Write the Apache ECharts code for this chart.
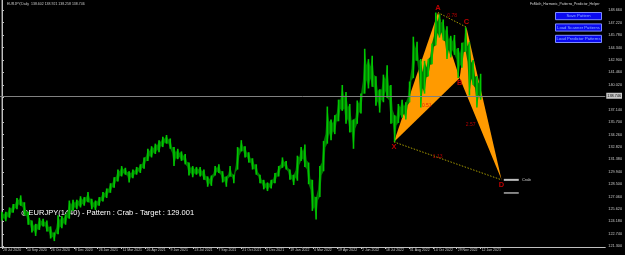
<!DOCTYPE html>
<html><head><meta charset="utf-8">
<script src="https://cdn.jsdelivr.net/npm/echarts@6/dist/echarts.min.js"></script>
<style>html,body{margin:0;padding:0;background:#000;}#c{width:625px;height:255px;}</style>
</head><body><div id="c"></div>
<script>
// ---------------- data ----------------
const symbolTitle = 'EURJPY,Daily  138.602 138.921 138.258 138.746';
const indicatorName = 'FxMath_Harmonic_Patterns_Predictor_Helper';
const buttonLabels = ['Save Pattern', 'Load Scanner Patterns', 'Load Predictor Patterns'];
const infoText = '@EURJPY(1440) - Pattern : Crab - Target : 129.001';
const dateLabels = ['28 Jul 2020','10 Sep 2020','26 Oct 2020','9 Dec 2020','26 Jan 2021','11 Mar 2021','26 Apr 2021','9 Jun 2021','23 Jul 2021','7 Sep 2021','21 Oct 2021','6 Dec 2021','19 Jan 2022','4 Mar 2022','19 Apr 2022','2 Jun 2022','18 Jul 2022','31 Aug 2022','14 Oct 2022','29 Nov 2022','12 Jan 2023'];
const barsPerDateLabel = 32;
const priceTicks = [148.660,147.220,145.780,144.340,142.900,141.460,140.020,138.580,137.140,135.700,134.260,132.820,131.380,129.940,128.500,127.060,125.620,124.180,122.740,121.300];
const barsPerSample = 5;   // one sample = one week of daily bars
const weeklyLow = [124.3,124.2,124.6,125.2,125.6,126.0,124.9,123.8,122.9,122.5,123.2,123.6,123.0,122.2,121.9,122.7,123.4,123.8,124.5,125.4,125.6,125.8,126.0,126.4,125.6,125.5,126.0,126.5,126.9,127.5,128.1,128.8,129.4,129.6,128.7,129.2,129.6,129.8,130.3,131.2,131.6,132.0,132.2,132.8,133.2,132.6,130.6,131.4,131.2,130.8,129.5,129.3,129.6,129.4,129.0,128.2,128.3,129.5,129.8,128.7,128.2,129.4,128.6,130.2,132.3,131.6,131.0,130.2,129.6,128.6,127.9,127.7,128.0,128.6,129.4,130.4,130.2,129.0,128.4,128.9,131.2,130.5,128.5,125.4,124.4,127.0,130.0,133.2,133.6,134.3,135.8,137.0,135.5,134.5,132.6,135.5,136.7,139.0,139.6,139.8,137.6,136.8,138.0,138.5,135.5,133.4,135.6,136.2,136.0,138.0,140.8,142.8,137.4,139.0,141.0,142.4,144.6,145.5,145.2,143.0,143.2,143.5,140.8,142.0,143.9,138.8,140.0,137.4,138.3];
const weeklyHigh = [125.3,125.3,125.8,126.2,126.9,127.2,126.4,125.3,124.3,123.9,124.6,124.5,124.3,123.6,122.9,124.9,124.8,125.0,126.6,126.7,126.7,127.1,127.0,127.6,126.8,126.6,127.0,127.6,128.0,128.6,129.3,130.2,130.6,130.4,130.0,130.2,130.5,130.8,131.6,132.6,132.9,133.2,133.6,134.0,134.2,133.8,132.8,132.6,132.3,132.0,131.0,130.6,130.5,130.5,130.2,129.4,129.5,130.6,130.8,130.0,129.4,130.6,129.6,132.8,133.6,132.9,132.2,131.5,130.8,129.6,129.0,128.7,129.0,129.8,130.6,131.6,131.2,130.2,129.6,131.8,132.8,133.1,131.0,129.0,127.0,130.6,133.5,137.5,136.0,136.5,138.3,140.0,139.2,137.8,136.0,138.2,139.0,144.2,143.0,143.4,141.0,139.5,141.2,142.3,140.0,136.5,137.8,138.3,138.0,140.4,145.6,145.0,143.0,142.8,143.0,144.8,148.4,148.2,147.6,146.8,145.7,145.8,144.3,144.9,146.7,145.0,142.9,141.0,141.3];
const lastPrice = 138.746;
const patternNames = ['X','A','B','C','D'];
const patternBars = [524, 583, 612, 621, 668];
const patternPrices = [133.40, 148.40, 140.80, 146.70, 129.001];
const ratioPairs = [['X','B'],['A','C'],['B','D'],['X','D']];
const ratioTexts = ['0.51','0.78','2.57','1.13'];
const patternType = 'Crab';
const targetPrices = [129.001, 127.48];

// ---------------- layout ----------------
const PX_PER_BAR = 0.75;
const GRID_RIGHT = 18, GRID_BOTTOM = 8, GRID_TOP = 0;
const PLOT_W = 625 - GRID_RIGHT;
const X_MIN = -2 / PX_PER_BAR;
const X_MAX = X_MIN + PLOT_W / PX_PER_BAR;
const Y_MIN = 121.216, Y_MAX = 149.854;
const FONT = '"Liberation Sans", Arial, sans-serif';

const idx = n => patternNames.indexOf(n);
const pt = n => [patternBars[idx(n)], patternPrices[idx(n)]];

const hlData = weeklyLow.map((l, i) => [i * barsPerSample, l, weeklyHigh[i]]);
// band segments between consecutive weeks
const bandData = weeklyLow.slice(1).map((l, i) => [i * barsPerSample, weeklyLow[i], weeklyHigh[i], (i+1) * barsPerSample, l, weeklyHigh[i+1]]);
const triData = [['X','A','B'], ['B','C','D']].map(t => t.flatMap(pt));
const dotData = [['A','C'], ['X','D']].map(p => p.flatMap(pt));
const ratioOffsets = [[0,-4],[0,-4],[-10,-4],[-10,-4]];
const ratioData = ratioPairs.map((p, i) => {
  const a = pt(p[0]), b = pt(p[1]);
  return { value: [(a[0]+b[0])/2, (a[1]+b[1])/2], text: ratioTexts[i],
           label: { offset: ratioOffsets[i] } };
});
const pointData = patternNames.map((n, i) => {
  const prev = patternPrices[i-1], next = patternPrices[i+1];
  const peak = (prev === undefined || patternPrices[i] > prev) && (next === undefined || patternPrices[i] > next);
  return { value: [patternBars[i], patternPrices[i]], name: n,
           label: { position: peak ? 'top' : 'bottom' } };
});
const dBar = patternBars[idx('D')];
const targetData = targetPrices.map((p, i) => [dBar + 3, p, dBar + 23, p, i]);

const chart = echarts.init(document.getElementById('c'), null, { renderer: 'canvas' });
chart.setOption({
  backgroundColor: '#000000',
  animation: false,
  grid: { left: 0, right: GRID_RIGHT, top: GRID_TOP, bottom: GRID_BOTTOM },
  xAxis: {
    type: 'value', min: X_MIN, max: X_MAX,
    splitLine: { show: false },
    axisLine: { lineStyle: { color: '#c0c0c0', width: 1 } },
    axisTick: { show: true, length: 2, lineStyle: { color: '#c0c0c0' },
      customValues: dateLabels.map((d, i) => i * barsPerDateLabel) },
    axisLabel: { customValues: dateLabels.map((d, i) => i * barsPerDateLabel),
      formatter: v => dateLabels[Math.round(v / barsPerDateLabel)] || '',
      color: '#c8c8c8', fontSize: 3.5, fontFamily: FONT, align: 'left', margin: 1.5, padding: [0,0,0,1] }
  },
  yAxis: {
    type: 'value', position: 'right', min: Y_MIN, max: Y_MAX, scale: true,
    splitLine: { show: false },
    axisLine: { show: true, lineStyle: { color: '#c0c0c0', width: 1 } },
    axisTick: { show: true, length: 2, lineStyle: { color: '#c0c0c0' }, customValues: priceTicks },
    axisLabel: { customValues: priceTicks, formatter: v => v.toFixed(3),
      color: '#c8c8c8', fontSize: 3.8, fontFamily: FONT, margin: 3 }
  },
  series: [
    { // harmonic triangles
      type: 'custom', z: 1, silent: true, clip: false,
      data: triData, encode: { x: [0,2,4], y: [1,3,5] },
      renderItem: (params, api) => {
        const pts = [0,1,2].map(j => api.coord([api.value(2*j), api.value(2*j+1)]));
        return { type: 'polygon', shape: { points: pts }, style: { fill: '#ff9a00' } };
      }
    },
    { // price band between consecutive weeks
      type: 'custom', z: 2, silent: true,
      data: bandData, encode: { x: [0,3], y: [1,2,4,5] },
      renderItem: (params, api) => {
        const a1 = api.coord([api.value(0), api.value(1)]);
        const a2 = api.coord([api.value(0), api.value(2)]);
        const b1 = api.coord([api.value(3), api.value(4)]);
        const b2 = api.coord([api.value(3), api.value(5)]);
        const m1 = [(a1[0]+b1[0])/2, (a1[1]*0.3+a2[1]*0.7 + b1[1]*0.3+b2[1]*0.7)/2];
        const m2 = [(a1[0]+b1[0])/2, (a1[1]*0.7+a2[1]*0.3 + b1[1]*0.7+b2[1]*0.3)/2];
        return { type: 'polygon', shape: { points: [a2, m1, b2, b1, m2, a1] },
          style: { fill: '#007800' } };
      }
    },
    { // price sticks (weekly high-low)
      type: 'custom', z: 3, silent: true,
      data: hlData, encode: { x: 0, y: [1,2] },
      renderItem: (params, api) => {
        const top = api.coord([api.value(0), api.value(2)]);
        const bot = api.coord([api.value(0), api.value(1)]);
        return { type: 'line', shape: { x1: top[0], y1: top[1], x2: top[0], y2: bot[1] },
            style: { stroke: '#00c800', lineWidth: 1.6 } };
      },
      markLine: {
        silent: true, symbol: 'none',
        lineStyle: { color: '#808080', type: 'solid', width: 1 },
        label: { position: 'end', formatter: () => lastPrice.toFixed(3), color: '#000',
          backgroundColor: '#c8c8c8', fontSize: 3.8, fontFamily: FONT, padding: [1,1,1,1], distance: 1 },
        data: [{ yAxis: lastPrice }]
      }
    },
    { // dotted ratio lines
      type: 'custom', z: 4, silent: true, clip: false,
      data: dotData, encode: { x: [0,2], y: [1,3] },
      renderItem: (params, api) => {
        const a = api.coord([api.value(0), api.value(1)]);
        const b = api.coord([api.value(2), api.value(3)]);
        return { type: 'line', shape: { x1: a[0], y1: a[1], x2: b[0], y2: b[1] },
          style: { stroke: '#a89c00', lineWidth: 1, lineDash: [1.5, 1.5] } };
      }
    },
    { // target lines
      type: 'custom', z: 4, silent: true, clip: false,
      data: targetData, encode: { x: [0,2], y: [1,3] },
      renderItem: (params, api) => {
        const a = api.coord([api.value(0), api.value(1)]);
        const b = api.coord([api.value(2), api.value(3)]);
        const first = api.value(4) === 0;
        return { type: 'line', shape: { x1: a[0], y1: a[1], x2: b[0], y2: b[1] },
          style: { stroke: first ? '#bdbdbd' : '#ffffff', lineWidth: first ? 2 : 1 } };
      }
    },
    { // pattern type label
      type: 'scatter', z: 5, silent: true, symbolSize: 0,
      data: [{ value: [dBar + 26, targetPrices[0]] }],
      label: { show: true, position: 'right', distance: 1, formatter: patternType,
        color: '#ffffff', fontSize: 4, fontFamily: FONT }
    },
    { // ratio labels
      type: 'scatter', z: 5, silent: true, symbolSize: 0,
      data: ratioData,
      label: { show: true, position: 'inside', formatter: p => p.data.text,
        color: '#e00000', fontSize: 5, fontFamily: FONT }
    },
    { // point labels
      type: 'scatter', z: 6, silent: true, symbolSize: 0,
      data: pointData,
      label: { show: true, formatter: p => p.name, distance: 1,
        color: '#ee0000', fontSize: 7.5, fontWeight: 'bold', fontFamily: FONT }
    }
  ],
  graphic: [
    { type: 'line', shape: { x1: 1.5, y1: 0, x2: 1.5, y2: 247 }, style: { stroke: '#555555', lineWidth: 1 }, silent: true },
    { type: 'text', left: 7, top: 2, style: { text: symbolTitle, fill: '#c8c8c8', font: '3.5px ' + FONT } },
    { type: 'text', left: 530, top: 3, style: { text: indicatorName, fill: '#d8d8d8', font: '3.4px ' + FONT } },
    ...buttonLabels.flatMap((t, i) => [
      { type: 'rect', shape: { x: 555.5, y: 12.5 + i * 11.4, width: 46, height: 7.2 },
        style: { fill: '#0a0af0', stroke: '#7d8cff', lineWidth: 1 } },
      { type: 'text', x: 578.5, y: 16.1 + i * 11.4, style: { text: t, fill: '#8fb4ff',
        font: '4.2px ' + FONT, align: 'center', verticalAlign: 'middle' } }
    ]),
    { type: 'text', left: 21, top: 209, style: { text: infoText, fill: '#ffffff', font: '7.5px ' + FONT } }
  ]
});
</script>
</body></html>
